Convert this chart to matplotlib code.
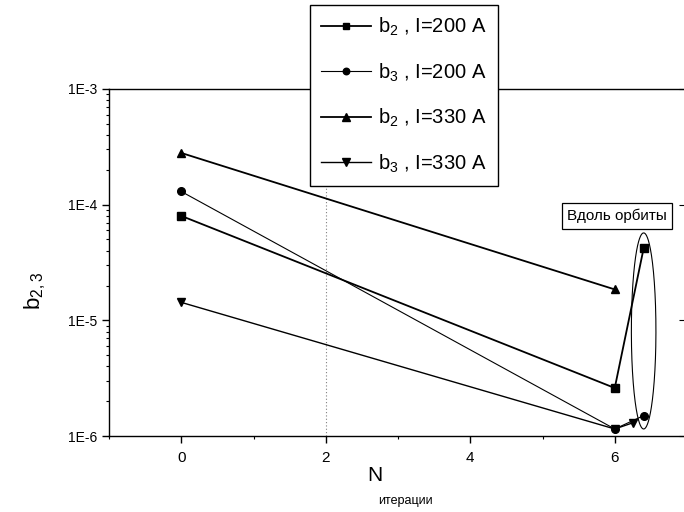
import matplotlib
matplotlib.use("Agg")
import matplotlib.pyplot as plt
import numpy as np
from matplotlib.ticker import FixedLocator, FixedFormatter, LogLocator, NullFormatter, NullLocator, MultipleLocator

# data
n_b2_200 = [0, 6, 6.4]
b2_200 = [8.0e-5, 2.6e-6, 4.2e-5]

n_b3_200 = [0, 6, 6.4]
b3_200 = [1.3e-4, 1.15e-6, 1.5e-6]

n_b2_330 = [0, 6]
b2_330 = [2.8e-4, 1.85e-5]

n_b3_330 = [0, 6, 6.25]
b3_330 = [1.43e-5, 1.15e-6, 1.3e-6]

y_ticks = [1e-6, 1e-5, 1e-4, 1e-3]
y_tick_labels = ["1E-6", "1E-5", "1E-4", "1E-3"]
x_ticks = [0, 2, 4, 6]

# ellipse around the "along the orbit" points (x centre, x half-width, log10 limits)
ell_x, ell_dx = 6.4, 0.17
ell_lo, ell_hi = np.log10(1.15e-6), np.log10(5.7e-5)

plt.rcParams['font.family'] = ['Liberation Sans', 'DejaVu Sans']

fig = plt.figure(figsize=(6.84, 5.12), dpi=100)
ax = fig.add_axes([109 / 684, 76 / 512, 578 / 684, 347 / 512])

ax.plot(n_b2_200, b2_200, color='black', lw=1.3, marker='s', ms=5.5,
        label=r'b$_{\mathregular{2}}$ , I=200 A', zorder=4)
ax.plot(n_b3_200, b3_200, color='black', lw=0.8, marker='o', ms=5.5,
        label=r'b$_{\mathregular{3}}$ , I=200 A', zorder=4)
ax.plot(n_b2_330, b2_330, color='black', lw=1.3, marker='^', ms=6,
        label=r'b$_{\mathregular{2}}$ , I=330 A', zorder=4)
ax.plot(n_b3_330, b3_330, color='black', lw=1.0, marker='v', ms=6,
        label=r'b$_{\mathregular{3}}$ , I=330 A', zorder=4)

# ellipse drawn in (linear x, log y) space, closed at the top
t = np.linspace(np.pi / 2, np.pi / 2 + 2 * np.pi, 400)
ex = ell_x + ell_dx * np.cos(t)
ey = 10 ** ((ell_lo + ell_hi) / 2 + (ell_hi - ell_lo) / 2 * np.sin(t))
ax.plot(ex, ey, color='black', lw=0.8, zorder=3, solid_capstyle='butt')

ax.axvline(2, color='gray', lw=0.8, ls=(0, (1, 2)), zorder=1)

ax.set_yscale('log')
ax.set_xlim(-1, 7)
ax.set_ylim(1e-6, 1e-3)

ax.yaxis.set_major_locator(FixedLocator(y_ticks))
ax.yaxis.set_major_formatter(FixedFormatter(y_tick_labels))
ax.yaxis.set_minor_locator(LogLocator(base=10, subs=np.arange(2, 10)))
ax.yaxis.set_minor_formatter(NullFormatter())
ax.xaxis.set_major_locator(FixedLocator(x_ticks))
ax.xaxis.set_minor_locator(MultipleLocator(1))

ax.tick_params(axis='both', which='major', direction='out', length=5, width=1,
               labelsize=10, color='black')
ax.tick_params(axis='both', which='minor', direction='out', length=2.5, width=0.8)
ax.tick_params(axis='x', which='major', labelsize=11, pad=6)
for s in ax.spines.values():
    s.set_linewidth(1.0)

# right-hand ticks point inwards
sec = ax.secondary_yaxis('right')
sec.yaxis.set_major_locator(FixedLocator(y_ticks))
sec.yaxis.set_minor_locator(NullLocator())
sec.tick_params(which='major', direction='in', length=6, labelright=False)
sec.yaxis.set_major_formatter(NullFormatter())

ax.set_ylabel(r'b$_{\mathregular{2,3}}$', fontsize=16)
ax.yaxis.set_label_coords(-0.105, 0.42)
ax.text(0.46, -0.115, 'N', transform=ax.transAxes, fontsize=15, ha='center', va='center')
ax.text(0.465, -0.186, 'итерации', transform=ax.transAxes, fontsize=9, ha='left', va='center')

ax.text(617 / 684, 1 - 216 / 512, 'Вдоль орбиты', transform=fig.transFigure,
        fontsize=11, ha='center', va='center',
        bbox=dict(boxstyle='square,pad=0.35', fc='white', ec='black', lw=0.9), zorder=6)

leg = ax.legend(loc='upper left', bbox_to_anchor=(310 / 684, 1 - 5 / 512),
                bbox_transform=fig.transFigure, borderaxespad=0, fontsize=14.5,
                frameon=True, fancybox=False, edgecolor='black', framealpha=1,
                markerscale=0.85, handlelength=2.5, labelspacing=1.15, borderpad=0.55,
                handletextpad=0.35)
leg.get_frame().set_linewidth(1.0)
leg.set_zorder(7)

fig.savefig('out.png', dpi=100)
